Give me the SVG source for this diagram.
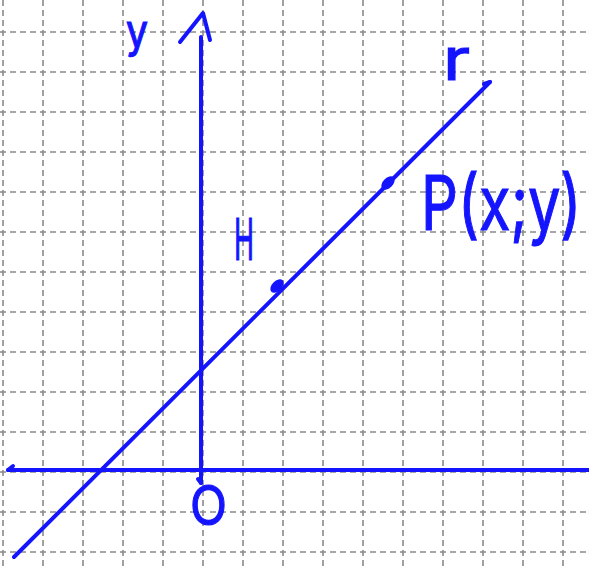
<svg xmlns="http://www.w3.org/2000/svg" width="589" height="567" viewBox="0 0 589 567">
<style>
.grid line{stroke:#8a8a8a;stroke-width:1.6;stroke-dasharray:6 4}
.ink{stroke:#1414ff;stroke-width:4;fill:none;stroke-linecap:round;stroke-linejoin:round}
.lbl{fill:#1414ff;stroke:#1414ff;stroke-width:1.2;font-family:Inter,"DejaVu Sans",sans-serif;font-weight:400}
</style>
<rect width="589" height="567" fill="#ffffff"/>
<g class="grid" id="grid">
<line x1="3" y1="0" x2="3" y2="567"/><line x1="43" y1="0" x2="43" y2="567"/><line x1="83" y1="0" x2="83" y2="567"/><line x1="123" y1="0" x2="123" y2="567"/><line x1="163" y1="0" x2="163" y2="567"/><line x1="203" y1="0" x2="203" y2="567"/><line x1="243" y1="0" x2="243" y2="567"/><line x1="283" y1="0" x2="283" y2="567"/><line x1="323" y1="0" x2="323" y2="567"/><line x1="363" y1="0" x2="363" y2="567"/><line x1="403" y1="0" x2="403" y2="567"/><line x1="443" y1="0" x2="443" y2="567"/><line x1="483" y1="0" x2="483" y2="567"/><line x1="523" y1="0" x2="523" y2="567"/><line x1="563" y1="0" x2="563" y2="567"/>
<line x1="0" y1="32" x2="589" y2="32"/><line x1="0" y1="72" x2="589" y2="72"/><line x1="0" y1="112" x2="589" y2="112"/><line x1="0" y1="152" x2="589" y2="152"/><line x1="0" y1="192" x2="589" y2="192"/><line x1="0" y1="232" x2="589" y2="232"/><line x1="0" y1="272" x2="589" y2="272"/><line x1="0" y1="312" x2="589" y2="312"/><line x1="0" y1="352" x2="589" y2="352"/><line x1="0" y1="392" x2="589" y2="392"/><line x1="0" y1="432" x2="589" y2="432"/><line x1="0" y1="472" x2="589" y2="472"/><line x1="0" y1="512" x2="589" y2="512"/><line x1="0" y1="552" x2="589" y2="552"/>
</g>
<g id="connectors">
<g id="x-axis"><path class="ink" d="M8 470 L589 470"/><path class="ink" d="M8 470 L13 466"/></g>
<g id="y-axis"><path class="ink" d="M201 483 L201 37"/><path class="ink" d="M201 483 L198 479"/><path class="ink" d="M180 42 L203 13 L210 40"/></g>
<g id="line-r"><path class="ink" d="M14 557 L490 82"/><path class="ink" d="M484 84 L490 82"/></g>
</g>
<g id="point-P"><ellipse cx="388" cy="183" rx="5" ry="8" transform="rotate(45 388 183)" fill="#1414ff"/></g>
<g id="point-H"><ellipse cx="277" cy="286" rx="5" ry="8" transform="rotate(45 277 286)" fill="#1414ff"/></g>
<g id="labels">
<text class="lbl" x="126" y="47" font-size="46" textLength="22" lengthAdjust="spacingAndGlyphs">y</text>
<text class="lbl" x="443" y="80" font-size="58" textLength="27" lengthAdjust="spacingAndGlyphs">r</text>
<text class="lbl" transform="translate(421 230) scale(0.76 1)" x="0" y="0" font-size="76">P(x;y)</text>
<text class="lbl" x="234" y="260" font-size="58" textLength="20" lengthAdjust="spacingAndGlyphs">H</text>
<text class="lbl" x="190" y="525" font-size="55" textLength="37" lengthAdjust="spacingAndGlyphs">O</text>
</g>
</svg>
